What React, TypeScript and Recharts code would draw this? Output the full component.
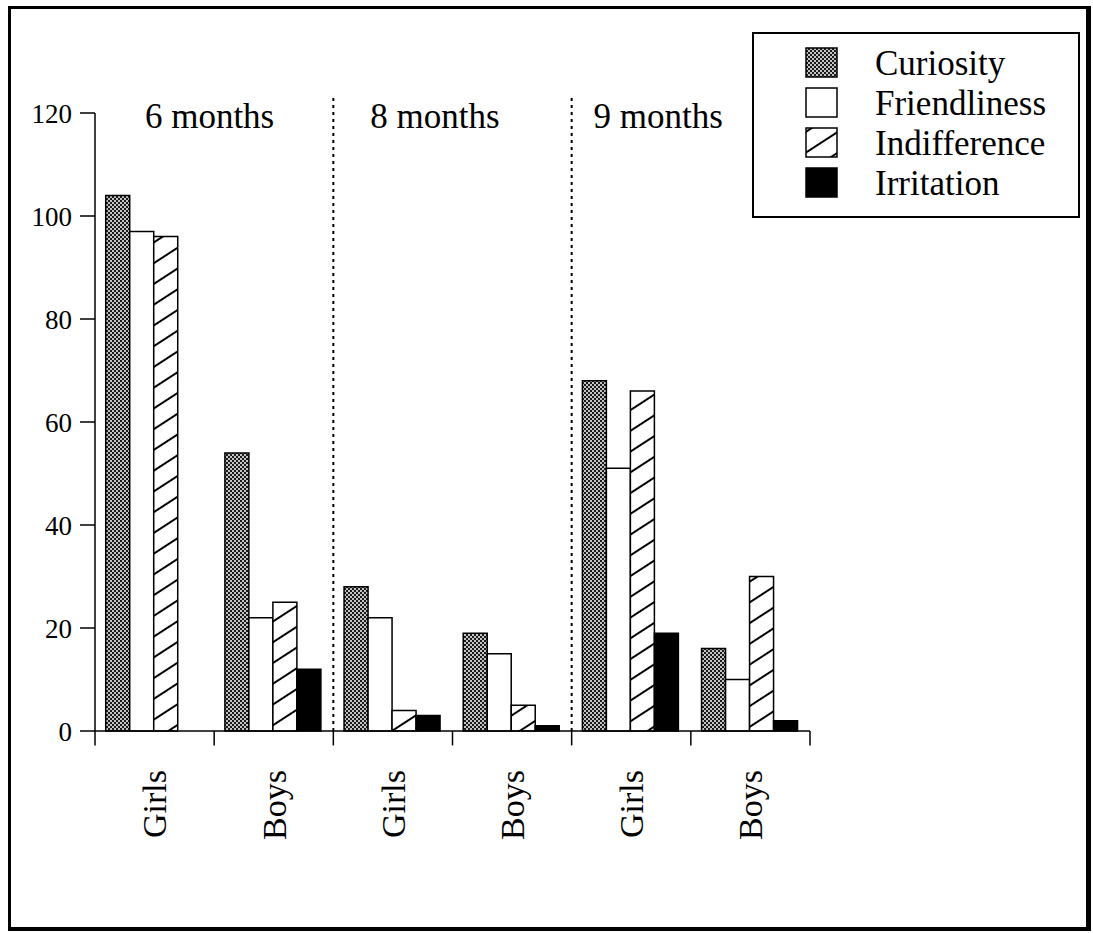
import React from 'react';
import { BarChart, Bar, XAxis, YAxis, ReferenceLine, ReferenceDot, Legend } from 'recharts';

const categories = ['Girls', 'Boys', 'Girls', 'Boys', 'Girls', 'Boys'];
const curiosity = [104, 54, 28, 19, 68, 16];
const friendliness = [97, 22, 22, 15, 51, 10];
const indifference = [96, 25, 4, 5, 66, 30];
const irritation = [0, 12, 3, 1, 19, 2];
const yTicks = [0, 20, 40, 60, 80, 100, 120];
const periodLabels = ['6 months', '8 months', '9 months'];
const seriesNames = ['Curiosity', 'Friendliness', 'Indifference', 'Irritation'];

const data = categories.map((c, i) => ({
  key: String(i),
  name: c,
  Curiosity: curiosity[i],
  Friendliness: friendliness[i],
  Indifference: indifference[i],
  Irritation: irritation[i],
}));

const SERIF = '"Liberation Serif", "Times New Roman", serif';
const fills: Record<string, string> = {
  Curiosity: 'url(#pat-cur)',
  Friendliness: '#ffffff',
  Indifference: 'url(#pat-ind)',
  Irritation: '#000000',
};
const legendFills: Record<string, string> = {
  Curiosity: 'url(#lg-cur)',
  Friendliness: '#ffffff',
  Indifference: 'url(#lg-ind)',
  Irritation: '#000000',
};

const Patterns = ({ prefix }: { prefix: string }) => (
  <defs>
    <pattern id={`${prefix}-cur`} width={4} height={4} patternUnits="userSpaceOnUse">
      <rect width={4} height={4} fill="#c4c4c4" />
      <rect x={0} y={0} width={2} height={2} fill="#1a1a1a" />
      <rect x={2} y={2} width={2} height={2} fill="#1a1a1a" />
    </pattern>
    <pattern id={`${prefix}-ind`} width={10} height={17.4} patternUnits="userSpaceOnUse" patternTransform="rotate(-33)">
      <rect width={10} height={17.4} fill="#fff" />
      <line x1={0} y1={8.7} x2={10} y2={8.7} stroke="#000" strokeWidth={2} />
    </pattern>
  </defs>
);

const keys = data.map((d) => d.key);
const dividerKeys = periodLabels.slice(1).map((_, i) => keys[(i + 1) * 2]);
const periodKeys = periodLabels.map((_, i) => keys[i * 2]);
const labelDx = [55, 42, 27];

const CatTick = (props: any) => {
  const { x, y, payload } = props;
  return (
    <g transform={`translate(${x},${y})`}>
      <text
        transform="rotate(-90)"
        x={-39}
        y={0}
        dy="0.35em"
        textAnchor="end"
        fontFamily={SERIF}
        fontSize={34}
        fill="#000"
      >
        {categories[Number(payload.value)]}
      </text>
    </g>
  );
};

const LegendBox = () => (
  <div style={{ width: 328, height: 186, position: 'relative' }}>
    <svg width={328} height={186} style={{ position: 'absolute', left: 0, top: 0 }}>
      <Patterns prefix="lg" />
      <rect x={1} y={1} width={326} height={184} fill="#fff" stroke="#000" strokeWidth={2} />
      {seriesNames.map((n, i) => (
        <g key={n}>
          <rect x={54} y={16 + 40 * i} width={31} height={29} fill={legendFills[n]} stroke="#000" strokeWidth={1.5} />
          <text x={123} y={43 + 40 * i} fontFamily={SERIF} fontSize={35} fill="#000">
            {n}
          </text>
        </g>
      ))}
    </svg>
  </div>
);

export default function App() {
  return (
    <div style={{ position: 'absolute', left: 0, top: 0, width: 1093, height: 933, background: '#fff' }}>
      <div
        style={{
          position: 'absolute',
          left: 8,
          top: 6,
          width: 1083,
          height: 925,
          boxSizing: 'border-box',
          borderLeft: '3px solid #000',
          borderTop: '3px solid #000',
          borderRight: '5px solid #000',
          borderBottom: '4px solid #000',
        }}
      />
      <div style={{ position: 'absolute', left: 0, top: 0 }}>
        <BarChart
          width={1093}
          height={933}
          data={data}
          margin={{ top: 113, right: 283, bottom: 52, left: 35 }}
          barCategoryGap="9%"
          barGap={0}
        >
          <Patterns prefix="pat" />
          <XAxis
            dataKey="key"
            height={150}
            tickLine={false}
            tickSize={0}
            tickMargin={0}
            axisLine={{ stroke: '#000', strokeWidth: 1.5 }}
            tick={<CatTick />}
            interval={0}
          />
          <YAxis
            width={60}
            domain={[0, 120]}
            ticks={yTicks}
            interval={0}
            tickSize={15}
            tickMargin={8}
            axisLine={{ stroke: '#000', strokeWidth: 1.5 }}
            tickLine={{ stroke: '#000', strokeWidth: 1.5 }}
            tick={{ fill: '#000', fontFamily: SERIF, fontSize: 27 }}
          />
          {seriesNames.map((n) => (
            <Bar
              key={n}
              dataKey={n}
              fill={fills[n]}
              stroke="#000"
              strokeWidth={1.5}
              isAnimationActive={false}
            />
          ))}
          {dividerKeys.map((k) => (
            <ReferenceLine
              key={`div-${k}`}
              position="start"
              segment={[{ x: k, y: 0 }, { x: k, y: 123 }]}
              ifOverflow="visible"
              stroke="#000"
              strokeWidth={2}
              strokeDasharray="3 4"
            />
          ))}
          {keys.map((k) => (
            <ReferenceLine
              key={`tick-${k}`}
              position="start"
              segment={[{ x: k, y: 0 }, { x: k, y: -2.8 }]}
              ifOverflow="visible"
              stroke="#000"
              strokeWidth={1.5}
            />
          ))}
          <ReferenceLine
            position="end"
            segment={[{ x: keys[keys.length - 1], y: 0 }, { x: keys[keys.length - 1], y: -2.8 }]}
            ifOverflow="visible"
            stroke="#000"
            strokeWidth={1.5}
          />
          {periodLabels.map((p, i) => (
            <ReferenceDot
              key={p}
              x={periodKeys[i]}
              y={117}
              r={0}
              ifOverflow="visible"
              shape={(sp: any) => (
                <text
                  x={sp.cx + labelDx[i]}
                  y={sp.cy}
                  textAnchor="middle"
                  fontFamily={SERIF}
                  fontSize={35}
                  fill="#000"
                >
                  {p}
                </text>
              )}
            />
          ))}
          <Legend
            layout="vertical"
            align="center"
            verticalAlign="middle"
            wrapperStyle={{ position: 'absolute', left: 752, top: 32, width: 328, height: 186 }}
            content={() => <LegendBox />}
          />
        </BarChart>
      </div>
    </div>
  );
}
